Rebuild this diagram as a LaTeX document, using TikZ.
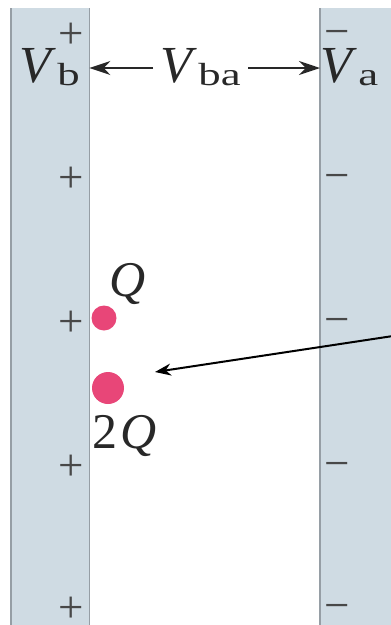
\documentclass[tikz,border=0pt]{standalone}
\usepackage{fontspec}
\setmainfont{Liberation Serif}
\newfontfamily\subfont[FakeStretch=1.4]{Liberation Serif}
\usetikzlibrary{arrows.meta}
\definecolor{platefill}{RGB}{207,219,227}
\definecolor{plateedge}{RGB}{150,158,165}
\definecolor{charge}{RGB}{232,70,120}
\definecolor{ink}{RGB}{40,40,40}
\newcommand\Vlab[1]{{\fontsize{52}{52}\selectfont\itshape V}\kern6pt\raisebox{-3pt}{\subfont\fontsize{32}{32}\selectfont #1}}
\begin{document}
\begin{tikzpicture}[x=1pt,y=-1pt,
  plate/.style={fill=platefill,draw=none,inner sep=0pt,anchor=north west},
  edge/.style={draw=plateedge,line width=1.6pt},
  sign/.style={text=ink!85,font=\fontsize{45}{45}\selectfont,inner sep=0pt,anchor=base},
  big/.style={text=ink,inner sep=0pt,anchor=base west,font=\fontsize{50}{50}\selectfont},
  dot/.style={circle,fill=charge,inner sep=0pt},
  varrow/.style={draw=ink,line width=2.2pt,-{Stealth[length=21pt,width=14pt]}},
  qarrow/.style={draw=black,line width=2pt,-{Stealth[length=16pt,width=12pt]}}]
\useasboundingbox (0,0) rectangle (391,625);
\fill[white] (0,0) rectangle (391,625);
% plates
\node[plate,minimum width=78pt,minimum height=620pt] (bplate) at (11,8) {};
\node[plate,minimum width=80pt,minimum height=620pt] (aplate) at (320,8) {};
\draw[edge] (bplate.north west) -- (bplate.south west);
\draw[edge] (bplate.north east) -- (bplate.south east);
\draw[edge] (aplate.north west) -- (aplate.south west);
% signs (anchored at baseline)
\foreach \y in {30,174,318,462,604}{
  \node[sign] (plus\y) at (71,\y+18) {+};
  \node[sign] (minus\y) at (337,\y+16) {−};
}
% voltage labels
\node[big] (Vb) at (19.5,82) {\Vlab{b}};
\node[big] (Vba) at (160.5,82) {\Vlab{ba}};
\node[big] (Va) at (320.5,82) {\Vlab{a}};
\coordinate (lstart) at (153,68);
\coordinate (rstart) at (248,68);
\coordinate (lend) at (bplate.east |- lstart);
\coordinate (rend) at (aplate.west |- rstart);
\draw[varrow] (lstart) -- (lend);
\draw[varrow] (rstart) -- (rend);
% charges
\node[dot,minimum size=25pt] (q1) at (104,318) {};
\node[dot,minimum size=32pt] (q2) at (108,388) {};
\node[big] (qlab) at (109,296) {\itshape Q};
\node[big] (q2lab) at (92,448) {2\kern3pt\textit{Q}};
% pointer arrow
\coordinate (pstart) at (393,336);
\coordinate (ptip) at (155,372);
\draw[qarrow] (pstart) -- (ptip);
\end{tikzpicture}
\end{document}
